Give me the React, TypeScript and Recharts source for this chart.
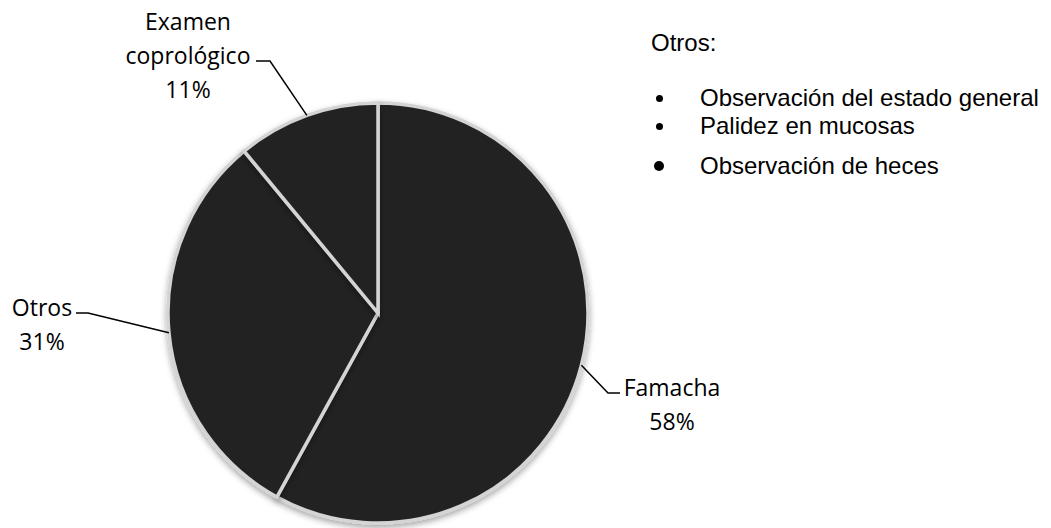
import React from 'react';
import { PieChart, Pie, Cell } from 'recharts';

// Métodos de diagnóstico utilizados
const categories = ['Famacha', 'Otros', 'Examen coprológico'];
const percentages = [58, 31, 11];
const otherMethods = ['Observación del estado general', 'Palidez en mucosas', 'Observación de heces'];

const data = categories.map((name, i) => ({ name, value: percentages[i] }));

// label placement: text lines, elbow and end of the leader line, text centre
const labelLayout = [
  { lines: ['Famacha'], elbow: [608, 393], end: [620, 393], tx: 672, ty: 387 },
  { lines: ['Otros'], elbow: [88, 313], end: [76, 313], tx: 42, ty: 307 },
  { lines: ['Examen', 'coprológico'], elbow: [270, 61], end: [256, 61], tx: 188, ty: 55 },
];

// rows of the "Otros:" note: vertical centre and bullet size
const noteRows = [
  { y: 98, dot: 7 },
  { y: 126, dot: 7 },
  { y: 166, dot: 10 },
];

const RADIAN = Math.PI / 180;
const LABEL_FONT = '"Open Sans", Lato, sans-serif';

const SliceLabel = (props: any) => {
  const { cx, cy, midAngle, outerRadius, index, value } = props;
  const layout = labelLayout[index];
  const sx = cx + outerRadius * Math.cos(-midAngle * RADIAN);
  const sy = cy + outerRadius * Math.sin(-midAngle * RADIAN);
  const lines = [...layout.lines, `${value}%`];
  const lineHeight = 34;
  // the line that sits next to the leader is the last name line
  const firstY = layout.ty - (layout.lines.length - 1) * lineHeight;
  return (
    <g>
      <polyline
        points={`${sx},${sy} ${layout.elbow[0]},${layout.elbow[1]} ${layout.end[0]},${layout.end[1]}`}
        fill="none"
        stroke="#000"
        strokeWidth={1.5}
      />
      {lines.map((t, i) => (
        <text
          key={i}
          x={layout.tx}
          y={firstY + i * lineHeight}
          textAnchor="middle"
          dominantBaseline="central"
          fontFamily={LABEL_FONT}
          fontSize={23}
          fill="#000"
        >
          {t}
        </text>
      ))}
    </g>
  );
};

const App: React.FC = () => {
  return (
    <div style={{ position: 'absolute', left: 0, top: 0, width: 1051, height: 528, background: '#fff' }}>
      <PieChart width={1051} height={528} margin={{ top: 0, right: 0, bottom: 0, left: 0 }}>
        <defs>
          <filter id="pieShadow" x="-10%" y="-10%" width="120%" height="125%">
            <feDropShadow dx="0" dy="3" stdDeviation="3" floodColor="#000" floodOpacity="0.35" />
          </filter>
        </defs>
        <Pie
          data={data}
          dataKey="value"
          cx={378}
          cy={313}
          outerRadius={210}
          startAngle={90}
          endAngle={-270}
          isAnimationActive={false}
          labelLine={false}
          label={SliceLabel}
          style={{ filter: 'url(#pieShadow)' }}
        >
          {data.map((_, i) => (
            <Cell key={`cell-${i}`} fill="#232323" stroke="#d4d4d4" strokeWidth={3.5} />
          ))}
        </Pie>
      </PieChart>

      <div
        style={{
          position: 'absolute',
          left: 651,
          top: 0,
          fontFamily: '"Liberation Sans", Arial, sans-serif',
          fontSize: 24,
          color: '#000',
        }}
      >
        <div style={{ position: 'absolute', top: 28, height: 30, lineHeight: '30px', whiteSpace: 'nowrap' }}>
          Otros:
        </div>
        {otherMethods.map((m, i) => {
          const row = noteRows[i];
          return (
            <div
              key={m}
              style={{
                position: 'absolute',
                left: 0,
                top: row.y - 15,
                height: 30,
                lineHeight: '30px',
                whiteSpace: 'nowrap',
                display: 'flex',
                alignItems: 'center',
              }}
            >
              <span
                style={{
                  display: 'inline-block',
                  width: row.dot,
                  height: row.dot,
                  borderRadius: '50%',
                  background: '#000',
                  marginLeft: 8 - row.dot / 2,
                  marginRight: 49 - (8 + row.dot / 2),
                }}
              />
              <span>{m}</span>
            </div>
          );
        })}
      </div>
    </div>
  );
};

export default App;
